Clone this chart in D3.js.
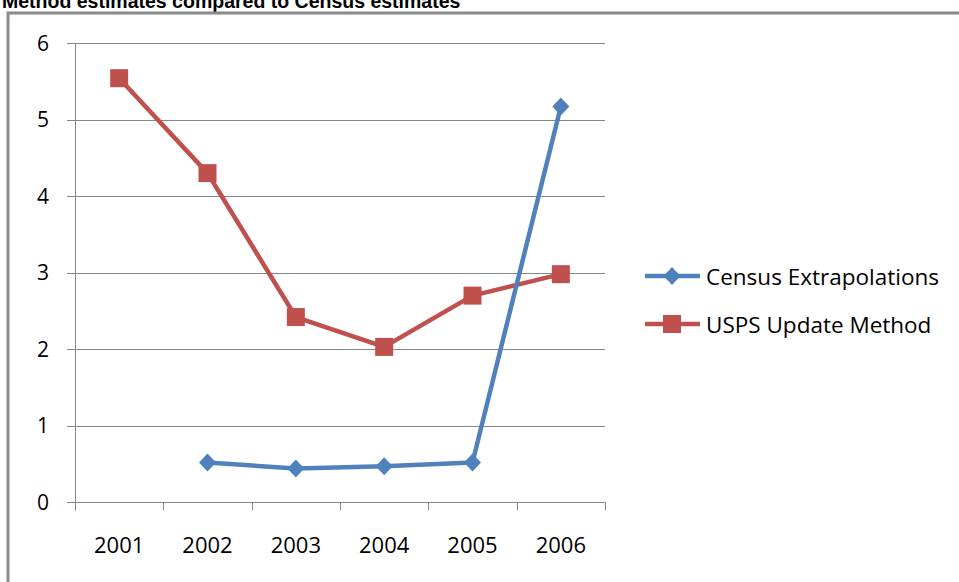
<!DOCTYPE html>
<html><head><meta charset="utf-8">
<script src="https://cdn.jsdelivr.net/npm/d3@7"></script>
<style>body{margin:0;background:#fff}svg{display:block}</style>
</head><body>
<script>
const years = ["2001","2002","2003","2004","2005","2006"];
const censusValues = [null, 0.52, 0.44, 0.47, 0.52, 5.17];
const uspsValues = [5.54, 4.30, 2.42, 2.03, 2.70, 2.98];
const yTicks = [0,1,2,3,4,5,6];
const seriesNames = ["Census Extrapolations","USPS Update Method"];
const title = "Method estimates compared to Census estimates";

(function(){
const W=959,H=582;
const svg=d3.select("body").append("svg").attr("width",W).attr("height",H);
const pL=75,pR=605,pT=43,pB=502.3;
const font="'Open Sans', 'Noto Sans', sans-serif";

svg.append("text").attr("x",2).attr("y",8).attr("font-family","Arial, 'Liberation Sans', sans-serif")
  .attr("font-weight","bold").attr("font-size",19.5).attr("fill","#000").text(title);
// frame
svg.append("path").attr("d",`M8,${H} L8,13 L${W},13`).attr("fill","none").attr("stroke","#8a8a8a").attr("stroke-width",3);

const x=d3.scaleBand().domain(years).range([pL,pR]).padding(0);
const y=d3.scaleLinear().domain([0,6]).range([pB,pT]);

// grid
svg.append("g").selectAll("line").data(yTicks).join("line")
  .attr("x1",67).attr("x2",pR).attr("y1",d=>Math.round(y(d))+0.5).attr("y2",d=>Math.round(y(d))+0.5)
  .attr("stroke","#868686").attr("stroke-width",1);
// y axis line
svg.append("line").attr("x1",pL+0.5).attr("x2",pL+0.5).attr("y1",pT).attr("y2",pB+8).attr("stroke","#868686");
// y labels
svg.append("g").selectAll("text").data(yTicks).join("text")
  .attr("x",49).attr("y",d=>y(d)+7.5).attr("text-anchor","end").attr("font-family",font).attr("font-size",21).attr("fill","#000").text(d=>d);
// x ticks
const xt=years.map(d=>x(d)).concat([pR]);
svg.append("g").selectAll("line").data(xt).join("line")
  .attr("x1",d=>Math.round(d)+0.5).attr("x2",d=>Math.round(d)+0.5).attr("y1",pB).attr("y2",pB+8).attr("stroke","#868686");
svg.append("g").selectAll("text").data(years).join("text")
  .attr("x",d=>x(d)+x.bandwidth()/2).attr("y",553).attr("text-anchor","middle").attr("font-family",font).attr("font-size",22).attr("fill","#000").text(d=>d);

const cx=d=>x(d)+x.bandwidth()/2;
const blue="#4F81BD",red="#C0504D";
const line=d3.line().defined(d=>d[1]!=null).x(d=>cx(d[0])).y(d=>y(d[1]));
const cData=years.map((d,i)=>[d,censusValues[i]]);
const uData=years.map((d,i)=>[d,uspsValues[i]]);
svg.append("path").datum(uData).attr("d",line).attr("fill","none").attr("stroke",red).attr("stroke-width",4.5).attr("stroke-linejoin","round");
svg.append("g").selectAll("rect").data(uData).join("rect")
  .attr("x",d=>cx(d[0])-9).attr("y",d=>y(d[1])-9).attr("width",18).attr("height",18).attr("fill",red);
svg.append("path").datum(cData).attr("d",line).attr("fill","none").attr("stroke",blue).attr("stroke-width",4.5).attr("stroke-linejoin","round");
const diamond="M0,-9L8.5,0L0,9L-8.5,0Z";
svg.append("g").selectAll("path").data(cData.filter(d=>d[1]!=null)).join("path")
  .attr("transform",d=>`translate(${cx(d[0])},${y(d[1])})`).attr("d",diamond).attr("fill",blue);

// legend
const lg=[{n:seriesNames[0],c:blue,t:"d",yy:276},{n:seriesNames[1],c:red,t:"s",yy:324}];
lg.forEach(o=>{
  svg.append("line").attr("x1",645).attr("x2",700).attr("y1",o.yy).attr("y2",o.yy).attr("stroke",o.c).attr("stroke-width",4.5);
  if(o.t==="d") svg.append("path").attr("transform",`translate(672,${o.yy})`).attr("d",diamond).attr("fill",o.c);
  else svg.append("rect").attr("x",663).attr("y",o.yy-9).attr("width",18).attr("height",18).attr("fill",o.c);
  svg.append("text").attr("x",706).attr("y",o.yy+9).attr("font-family",font).attr("font-size",22.5).attr("fill","#000").text(o.n);
});
})();
</script>
</body></html>
